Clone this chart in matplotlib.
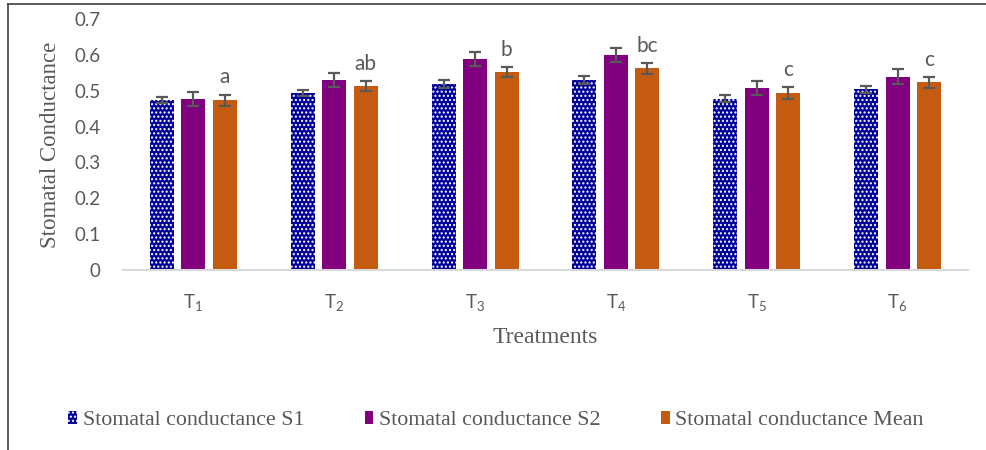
import matplotlib
matplotlib.use("Agg")
import matplotlib.pyplot as plt
from matplotlib.lines import Line2D
import numpy as np

plt.rcParams['mathtext.default'] = 'regular'
plt.rcParams['hatch.linewidth'] = 1.0

# Dados
tratamentos = ["T$_1$", "T$_2$", "T$_3$", "T$_4$", "T$_5$", "T$_6$"]
s1 = [0.474, 0.493, 0.518, 0.530, 0.478, 0.504]
s2 = [0.477, 0.530, 0.589, 0.600, 0.507, 0.539]
media = [0.473, 0.513, 0.553, 0.562, 0.494, 0.523]
err_s1 = [0.008, 0.008, 0.011, 0.011, 0.010, 0.010]
err_s2 = [0.020, 0.019, 0.020, 0.019, 0.020, 0.021]
err_media = [0.016, 0.015, 0.014, 0.016, 0.016, 0.016]
letras = ["a", "ab", "b", "bc", "c", "c"]

cinza = '#595959'
x = np.arange(len(tratamentos))
desloc = 0.224
largura = 0.17

fig = plt.figure(figsize=(9.86, 4.5), dpi=100)
ax = fig.add_axes([123/986, 1 - 270/450, 845/986, 251/450])

eb = dict(ecolor=cinza, elinewidth=1.6, capsize=4.5, capthick=1.6)
ax.bar(x - desloc, s1, width=largura, color='#000099', edgecolor='white',
       hatch='....', linewidth=0, yerr=err_s1, error_kw=eb,
       label="Stomatal conductance S1")
ax.bar(x, s2, width=largura, color='#800080', linewidth=0,
       yerr=err_s2, error_kw=eb, label="Stomatal conductance S2")
ax.bar(x + desloc, media, width=largura, color='#C55A11', linewidth=0,
       yerr=err_media, error_kw=eb, label="Stomatal conductance Mean")

# letras acima da média
for i, l in enumerate(letras):
    ax.text(x[i] + desloc, media[i] + err_media[i] + 0.02, l, ha='center',
            va='bottom', fontsize=15, color=cinza, family='Lato')

ax.set_xlim(-0.5, 5.5)
ax.set_ylim(0, 0.7)
ax.set_yticks(np.arange(0, 0.71, 0.1))
ax.set_yticklabels(["0", "0.1", "0.2", "0.3", "0.4", "0.5", "0.6", "0.7"])
ax.set_xticks(x)
ax.set_xticklabels(tratamentos)
for t in ax.get_xticklabels() + ax.get_yticklabels():
    t.set_family('Lato')
    t.set_fontsize(13.5)
    t.set_color(cinza)
ax.tick_params(axis='both', length=0)
ax.tick_params(axis='y', pad=16)
ax.tick_params(axis='x', pad=16)
for s in ['top', 'right', 'left']:
    ax.spines[s].set_visible(False)
ax.spines['bottom'].set_color('#D9D9D9')
ax.spines['bottom'].set_linewidth(1.5)

ax.set_xlabel("Treatments", family='Liberation Serif', fontsize=17,
              color=cinza, labelpad=10)
ax.set_ylabel("Stomatal Conductance", family='Liberation Serif', fontsize=16.5,
              color=cinza, labelpad=10)

fig.legend(loc='center', bbox_to_anchor=(0.503, 0.066), ncol=3, frameon=False,
           handlelength=0.4, handleheight=0.55, handletextpad=0.25,
           columnspacing=2.75, prop={'family': 'Liberation Serif', 'size': 15.8},
           labelcolor=cinza)

# moldura (esquerda e topo)
fig.add_artist(Line2D([8/986, 8/986], [0, 1 - 4/450], transform=fig.transFigure,
                      color='#404040', linewidth=1.2))
fig.add_artist(Line2D([8/986, 1], [1 - 4/450, 1 - 4/450], transform=fig.transFigure,
                      color='#404040', linewidth=1.2))

fig.savefig("out.png", dpi=100)
